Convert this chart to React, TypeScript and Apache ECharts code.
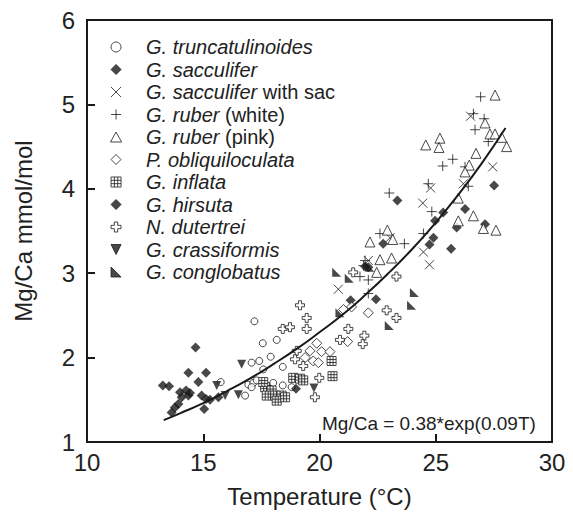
import React, { useEffect, useRef } from 'react';
import * as echarts from 'echarts';

const FONT = '"Liberation Sans", Arial, Helvetica, sans-serif';

// [Temperature (°C), Mg/Ca (mmol/mol)]
const truncatulinoides = [
  [17.2, 2.43], [17.56, 2.17], [18.16, 2.21], [17.08, 1.94], [17.41, 1.96], [17.9, 2.01],
  [17.58, 1.86], [18.42, 1.89], [15.75, 1.71], [16.8, 1.55], [16.94, 1.68], [17.15, 1.7],
  [17.3, 1.73], [17.08, 1.65], [18.01, 1.7], [18.42, 1.67], [17.87, 1.63], [18.8, 1.65],
];
const sacculifer = [
  [22.74, 3.35], [21.96, 3.08], [22.1, 3.07], [24.9, 3.42], [24.73, 3.34], [25.66, 3.29],
  [25.9, 3.54], [21.34, 2.68], [22.43, 2.69], [27.51, 4.04], [23.35, 3.86], [25.32, 3.72],
  [24.97, 3.62], [26.26, 3.76], [27.12, 3.58],
];
const sacculiferSac = [
  [23.03, 3.42], [24.47, 3.25], [24.73, 3.1], [20.81, 2.81], [22.1, 3.15], [26.5, 4.86],
  [27.45, 4.26], [24.78, 4.01], [26.19, 4.06], [24.44, 3.83],
];
const ruberWhite = [
  [22.6, 3.47], [23.65, 3.35], [24.47, 3.47], [21.96, 3.15], [21.74, 2.96], [22.1, 2.92],
  [22.1, 2.76], [21.89, 3.09], [26.93, 5.09], [26.62, 4.89], [27.08, 4.83], [26.69, 4.7],
  [27.26, 4.56], [25.73, 4.35], [25.3, 4.27], [26.26, 4.26], [24.68, 4.06], [26.4, 4.03],
  [23.0, 3.95], [24.83, 3.73],
];
const ruberPink = [
  [22.92, 3.51], [22.17, 3.37], [23.15, 3.4], [22.6, 3.16], [23.1, 3.18], [22.46, 3.01],
  [27.05, 3.53], [27.59, 3.51], [27.55, 5.11], [27.12, 4.78], [27.33, 4.65], [27.55, 4.65],
  [27.84, 4.61], [28.05, 4.5], [25.18, 4.6], [24.57, 4.52], [25.14, 4.49], [26.73, 4.42],
  [26.44, 4.28], [26.26, 4.2], [25.97, 3.89], [25.97, 3.62], [26.62, 3.68],
];
const obliquiloculata = [
  [21.03, 2.57], [21.38, 2.6], [22.1, 2.53], [21.21, 2.19], [19.88, 2.17], [19.59, 2.08],
  [20.09, 2.07], [20.45, 2.07], [19.38, 2.0], [19.73, 1.96], [19.95, 1.94],
];
const inflata = [
  [17.66, 1.65], [17.94, 1.61], [17.73, 1.55], [18.09, 1.55], [18.37, 1.55], [18.16, 1.49],
  [18.52, 1.53], [18.87, 1.76], [19.16, 1.75], [19.3, 1.73], [17.58, 1.71], [20.52, 1.96],
  [20.56, 1.78],
];
const hirsuta = [
  [14.67, 2.12], [14.36, 1.82], [15.12, 1.82], [14.79, 1.71], [13.26, 1.67], [13.53, 1.66],
  [14.0, 1.59], [14.26, 1.61], [14.43, 1.58], [14.36, 1.55], [14.07, 1.53], [13.93, 1.45],
  [13.78, 1.41], [13.64, 1.35], [14.93, 1.55], [15.12, 1.51], [15.29, 1.5], [15.04, 1.39],
  [15.65, 1.53], [18.99, 1.63],
];
const dutertrei = [
  [19.16, 2.62], [19.45, 2.47], [19.45, 2.34], [18.42, 2.34], [18.73, 2.36], [19.02, 2.08],
  [18.95, 1.98], [19.3, 1.9], [19.8, 1.53], [21.45, 3.01], [23.31, 2.96], [22.89, 2.56],
  [23.31, 2.47], [21.24, 2.34], [20.88, 2.21], [21.93, 2.26], [21.86, 2.16], [19.99, 1.76],
];
const crassiformis = [
  [16.65, 1.92], [15.58, 1.67], [15.94, 1.55], [16.51, 1.56], [19.76, 1.64],
];
const conglobatus = [
  [20.74, 3.01], [21.28, 2.94], [20.88, 2.53], [24.08, 2.77], [23.96, 2.62], [23.0, 2.38],
  [22.17, 3.07],
];
// fit curve Mg/Ca = 0.38*exp(0.09T)
const fitCurve = [
  [13.3, 1.26], [14, 1.34], [15, 1.46], [16, 1.6], [17, 1.75], [18, 1.92], [19, 2.1],
  [20, 2.3], [21, 2.51], [22, 2.75], [23, 3.01], [24, 3.29], [25, 3.6], [26, 3.94],
  [27, 4.31], [28, 4.72],
];

const seriesNames = [
  'G. truncatulinoides', 'G. sacculifer', 'G. sacculifer with sac', 'G. ruber (white)',
  'G. ruber (pink)', 'P. obliquiloculata', 'G. inflata', 'G. hirsuta', 'N. dutertrei',
  'G. crassiformis', 'G. conglobatus',
];
const legendRich: Record<string, string> = {
  'G. truncatulinoides': '{i|G. truncatulinoides}',
  'G. sacculifer': '{i|G. sacculifer}',
  'G. sacculifer with sac': '{i|G. sacculifer}{n| with sac}',
  'G. ruber (white)': '{i|G. ruber}{n| (white)}',
  'G. ruber (pink)': '{i|G. ruber}{n| (pink)}',
  'P. obliquiloculata': '{i|P. obliquiloculata}',
  'G. inflata': '{i|G. inflata}',
  'G. hirsuta': '{i|G. hirsuta}',
  'N. dutertrei': '{i|N. dutertrei}',
  'G. crassiformis': '{i|G. crassiformis}',
  'G. conglobatus': '{i|G. conglobatus}',
};
const equationText = 'Mg/Ca = 0.38*exp(0.09T)';

export default function App() {
  const ref = useRef<HTMLDivElement>(null);
  useEffect(() => {
    document.body.style.margin = '0';
    const chart = echarts.init(ref.current!, null, { renderer: 'svg' });
    const ink = '#1a1a1a';
    const open = { color: '#fff', borderColor: ink, borderWidth: 1 };
    const filled = { color: ink, borderColor: ink, borderWidth: 0 };
    const lineSym = { color: ink, borderColor: ink, borderWidth: 1 };
    const DIAMOND = 'path://M5,0L10,5L5,10L0,5Z';
    const defs: any[] = [
      [truncatulinoides, 'circle', 7, open],
      [sacculifer, DIAMOND, 10, filled],
      [sacculiferSac, 'path://M0,0L10,10M10,0L0,10', 9, lineSym],
      [ruberWhite, 'path://M5,0L5,10M0,5L10,5', 10, lineSym],
      [ruberPink, 'path://M5,0L10,9L0,9Z', 10, open],
      [obliquiloculata, DIAMOND, 10, open],
      [inflata, 'path://M0,0L9,0L9,9L0,9ZM3,0L3,9M6,0L6,9M0,3L9,3M0,6L9,6', 9, open],
      [hirsuta, DIAMOND, 10, filled],
      [dutertrei, 'path://M3,0L6,0L6,3L9,3L9,6L6,6L6,9L3,9L3,6L0,6L0,3L3,3Z', 9, open],
      [crassiformis, 'path://M0,0L10,0L5,10Z', 9, filled],
      [conglobatus, 'path://M0,0L10,10L0,10Z', 9, filled],
    ];
    const series: any[] = defs.map((d, i) => ({
      name: seriesNames[i],
      type: 'scatter',
      data: d[0],
      symbol: d[1],
      symbolSize: d[2],
      itemStyle: d[3],
      z: 3,
    }));
    series.push({
      name: 'fit',
      type: 'line',
      data: fitCurve,
      smooth: true,
      showSymbol: false,
      symbol: 'none',
      lineStyle: { color: ink, width: 2 },
      z: 4,
    });
    chart.setOption({
      animation: false,
      backgroundColor: '#fff',
      textStyle: { fontFamily: FONT },
      grid: {
        left: 87, right: 21, top: 20, bottom: 66,
        show: true, borderColor: ink, borderWidth: 2, backgroundColor: 'transparent',
      },
      xAxis: {
        type: 'value', min: 10, max: 30, interval: 5,
        name: 'Temperature (°C)', nameLocation: 'middle', nameGap: 42,
        nameTextStyle: { fontSize: 24, color: '#222', fontFamily: FONT },
        axisLine: { show: true, lineStyle: { color: ink, width: 2 } },
        axisTick: { show: true, inside: true, length: 8, lineStyle: { color: ink, width: 2 } },
        axisLabel: { fontSize: 24, color: '#222', margin: 8, fontFamily: FONT },
        splitLine: { show: false },
      },
      yAxis: {
        type: 'value', min: 1, max: 6, interval: 1,
        name: 'Mg/Ca mmol/mol', nameLocation: 'middle', nameGap: 52,
        nameTextStyle: { fontSize: 24, color: '#222', fontFamily: FONT },
        axisLine: { show: true, lineStyle: { color: ink, width: 2 } },
        axisTick: { show: true, inside: true, length: 8, lineStyle: { color: ink, width: 2 } },
        axisLabel: { fontSize: 24, color: '#222', margin: 12, fontFamily: FONT },
        splitLine: { show: false },
      },
      legend: {
        data: seriesNames,
        orient: 'vertical',
        left: 110, top: 37,
        padding: 0,
        itemWidth: 50, itemHeight: 10, itemGap: 2.5,
        selectedMode: false,
        itemStyle: { borderWidth: 1 },
        formatter: (name: string) => legendRich[name] || name,
        textStyle: {
          fontSize: 20, color: '#222', fontFamily: FONT, lineHeight: 20,
          rich: {
            i: { fontSize: 20, fontStyle: 'italic', color: '#222', fontFamily: FONT, lineHeight: 20 },
            n: { fontSize: 20, color: '#222', fontFamily: FONT, lineHeight: 20 },
          },
        },
      },
      graphic: [
        {
          type: 'text', left: 322, top: 414,
          style: { text: equationText, font: `19px ${FONT}`, fill: '#222' },
          z: 10,
        },
      ],
      series,
    });
    return () => chart.dispose();
  }, []);
  return <div ref={ref} style={{ width: 573, height: 513 }} />;
}
